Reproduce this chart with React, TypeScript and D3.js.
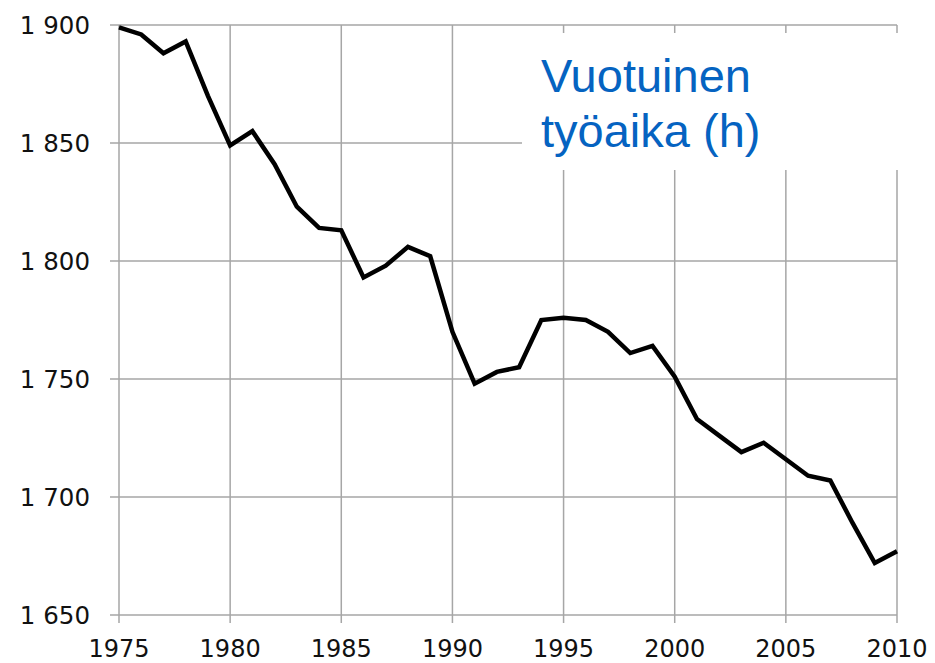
import React from 'react';
import * as d3 from 'd3';

const years: number[] = d3.range(1975, 2011);
const hours: number[] = [
  1899, 1896, 1888, 1893, 1870, 1849, 1855, 1841, 1823, 1814,
  1813, 1793, 1798, 1806, 1802, 1770, 1748, 1753, 1755, 1775,
  1776, 1775, 1770, 1761, 1764, 1751, 1733, 1726, 1719, 1723,
  1716, 1709, 1707, 1689, 1672, 1677,
];
const xTicks: number[] = [1975, 1980, 1985, 1990, 1995, 2000, 2005, 2010];
const yTicks: number[] = [1650, 1700, 1750, 1800, 1850, 1900];
const titleLines: string[] = ['Vuotuinen', 'työaika (h)'];

const W = 935;
const H = 663;
const margin = { top: 25, right: 38, bottom: 48, left: 119 };
const width = W - margin.left - margin.right;
const height = H - margin.top - margin.bottom;

const grid = '#a6a6a6';
const font = '"DejaVu Sans", Verdana, sans-serif';

export default function App() {
  const x = d3.scaleLinear().domain([1975, 2010]).range([0, width]);
  const y = d3.scaleLinear().domain([1650, 1900]).range([height, 0]);

  const line = d3.line<number>()
    .x((_d, i) => x(years[i]))
    .y((d) => y(d));

  const fmt = (d: number) => d3.format(',')(d).replace(',', ' ');

  return (
    <svg
      width={W}
      height={H}
      style={{ display: 'block', margin: '-8px 0 0 -8px' }}
    >
      <g transform={`translate(${margin.left},${margin.top})`}>
        {/* grid */}
        {xTicks.map((d) => (
          <line key={'v' + d} x1={x(d)} x2={x(d)} y1={0} y2={height + 8}
            stroke={grid} strokeWidth={1.5} />
        ))}
        {yTicks.map((d) => (
          <line key={'h' + d} x1={-9} x2={width} y1={y(d)} y2={y(d)}
            stroke={grid} strokeWidth={1.5} />
        ))}

        {/* axis labels */}
        {yTicks.map((d) => (
          <text key={'yl' + d} x={-29} y={y(d)} dy="0.36em" textAnchor="end"
            style={{ fontFamily: font, fontSize: '24.5px', fill: '#111' }}>
            {fmt(d)}
          </text>
        ))}
        {xTicks.map((d) => (
          <text key={'xl' + d} x={x(d)} y={height + 42} textAnchor="middle"
            style={{ fontFamily: font, fontSize: '24px', fill: '#111' }}>
            {String(d)}
          </text>
        ))}
      </g>

      {/* title box covering the grid */}
      <rect x={522} y={33} width={W - 522} height={137} fill="#fff" />
      <text
        x={541}
        y={92}
        style={{ fontFamily: '"Liberation Sans", Arial, sans-serif', fontSize: '47px', fill: '#0563c1' }}
      >
        {titleLines.map((t, i) => (
          <tspan key={t} x={541} dy={i === 0 ? 0 : 55}>{t}</tspan>
        ))}
      </text>

      <g transform={`translate(${margin.left},${margin.top})`}>
        <path
          d={line(hours) || ''}
          fill="none"
          stroke="#000"
          strokeWidth={4.5}
          strokeLinejoin="miter"
        />
      </g>
    </svg>
  );
}
